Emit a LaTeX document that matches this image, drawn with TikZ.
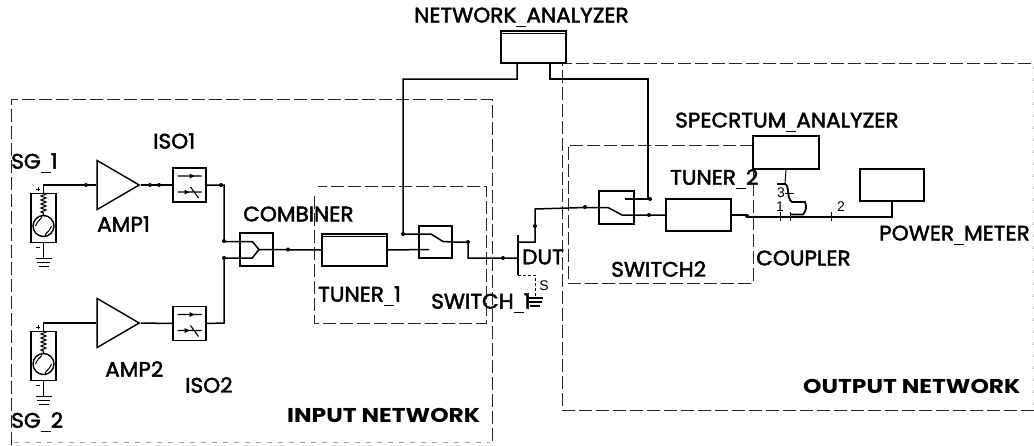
\documentclass[tikz,border=0pt]{standalone}
\usepackage{fontspec}
\setmainfont[FakeStretch=1.03,FakeBold=2.2]{Poppins}
\newfontfamily\netfont[FakeStretch=1.17]{Poppins}
\newfontfamily\portfont{Liberation Sans}
\usetikzlibrary{calc,shapes.geometric,decorations.pathmorphing}
\tikzset{
  wire/.style={line width=1.5pt, black},
  thin wire/.style={line width=1pt, black},
  region/.style={line width=0.8pt, black!85, dash pattern=on 13pt off 4pt},
  block/.style={draw, line width=1.4pt, inner sep=0pt, minimum width=#1},
  instr/.style={draw, line width=2.2pt, inner sep=0pt, minimum width=62pt, minimum height=30pt},
  amp/.style={draw, line width=1.4pt, isosceles triangle, isosceles triangle stretches, inner sep=0pt, minimum width=49pt, minimum height=42pt, anchor=apex},
  lbl/.style={inner sep=0pt, anchor=west, font=\fontsize{21}{21}\selectfont},
  netlbl/.style={inner sep=0pt, anchor=west, font=\fontsize{20}{20}\netfont\bfseries},
  portlbl/.style={inner sep=0pt, font=\fontsize{14}{14}\portfont},
  resistor/.style={decorate, decoration={zigzag, amplitude=2.5pt, segment length=4pt}}
}
\newcommand{\Us}{\rule[-4pt]{10pt}{0.5pt}}
\newcommand{\GroundSym}[1]{% #1=top coordinate
  \draw[line width=1.2pt] ($(#1)+(-8,0)$) -- ++(16,0) ($(#1)+(-6.5,4)$) -- ++(13,0) ($(#1)+(-5,8)$) -- ++(10,0);
}
\newcommand{\SourceSym}[2]{% #1=basename (e.g. SGa), #2=y of the box top
  \node[block=25pt, minimum height=49pt, anchor=north] (#1) at (43.5,#2) {};
  \node[draw, circle, line width=1.4pt, inner sep=0pt, minimum size=21pt, fill=white] (#1c) at (43.5,#2+33) {};
  \draw[line width=1pt] ($(#1c)+(-8,0)$) .. controls ($(#1c)+(-4,-9)$) and ($(#1c)+(-1,-6)$) .. (#1c)
    .. controls ($(#1c)+(1,6)$) and ($(#1c)+(4,9)$) .. ($(#1c)+(8,0)$);
  \draw[line width=1.1pt, resistor] (43.5,#2) -- (#1c.north);
  \draw[wire] (#1.south) -- ++(0,15) coordinate (#1g);
  \GroundSym{#1g}
  \draw[thin wire] (36,#2-4) -- ++(4,0) (38,#2-6) -- ++(0,4) (36,#2+54) -- ++(4,0);
}
\newcommand{\IsoSym}[1]{% #1=node name
  \draw[line width=1.1pt] ($(#1.center)+(-12,-9)$) -- ++(24,0) ($(#1.center)+(-12,7)$) -- ++(24,0) ($(#1.center)+(1,2)$) -- ++(8,11);
  \fill ($(#1.center)+(5,-9)$) -- ++(-5,-2.5) -- ++(0,5) -- cycle ($(#1.center)+(0,7)$) -- ++(-5,-2.5) -- ++(0,5) -- cycle;
}
\begin{document}
\begin{tikzpicture}[x=1pt,y=-1pt]
    \useasboundingbox (0,0) rectangle (1034,445);
    % regions
    \draw[region] (11,445) -- (11,99) -- (492,99) -- (492,445);
    \draw[region, black!35, dash pattern=on 5pt off 6pt] (14,442) -- (490,442);
    \draw[region] (1034,410) -- (562,410) -- (562,63) -- (1034,63);
    \draw[region, black!25, dash pattern=on 3pt off 9pt] (1033,66) -- (1033,408);
    \draw[region] (314,196) -- (314,323) -- (486,323) -- (486,186) -- (318,186);
    \draw[region] (753,145) -- (568,145) -- (568,283) -- (753,283) -- (753,172);

    \SourceSym{SGa}{193}
    \SourceSym{SGb}{331}

    \node[amp] (AMPa) at (141,185) {};
    \node[amp] (AMPb) at (141,323) {};
    \node[block=33pt, minimum height=34pt] (ISOa) at (189.5,185) {};
    \node[block=33pt, minimum height=34pt] (ISOb) at (189.5,323.5) {};
    \IsoSym{ISOa}
    \IsoSym{ISOb}
    \node[block=33pt, minimum height=33pt] (COMB) at (256.5,249.5) {};
    \node[instr, line width=2pt, minimum width=65pt, minimum height=32pt] (TUNa) at (354.5,250) {};
    \draw[line width=1pt] (323,236.5) -- (386,236.5);
    \node[block=33pt, minimum height=32pt] (SWa) at (435.5,242) {};
    \node[instr, minimum width=65pt, minimum height=32pt] (NA) at (533.5,47) {};
    \draw[line width=1pt] (502,33.5) -- (565,33.5);
    \node[block=35pt, minimum height=33pt] (SWb) at (616.5,207.5) {};
    \node[instr, minimum width=65pt, minimum height=32pt] (TUNb) at (698.5,215) {};
    \node[instr, minimum width=66pt, minimum height=33pt] (SA) at (786,152.5) {};
    \node[instr, minimum width=64pt, minimum height=32pt] (PM) at (892,185) {};

    \coordinate (SGat) at (43.5,185);
    \coordinate (SGbt) at (43.5,323);
    \coordinate (JOINa) at (224,185);
    \coordinate (JOINb) at (224,323);
    \coordinate (CMBa) at (224,241.5);
    \coordinate (CMBb) at (224,258);
    \coordinate (CMBt) at (259,249.5);
    \coordinate (SWaIn) at (429,249.5);
    \coordinate (SWaT) at (403,234);
    \coordinate (SWaOut) at (468,242);
    \coordinate (VIAa) at (403,79);
    \coordinate (VIAb) at (648,79);
    \coordinate (GATE) at (518,258);
    \coordinate (DRN) at (535,242);
    \coordinate (DRNt) at (535,209);
    \coordinate (SRC) at (535,275);
    \coordinate (SRCg) at (535,298);
    \coordinate (SWbTop) at (648,199);
    \coordinate (CPLa) at (785,184);
    \coordinate (CPLb) at (805,202);
    \coordinate (PMd) at (892,217);

    \draw[wire] (SGa.north) -- (SGat) -- (AMPa.west);
    \draw[wire] (SGb.north) -- (SGbt) -- (AMPb.west);
    \draw[wire] (AMPa.apex) -- (ISOa.west);
    \draw[wire] (AMPb.apex) -- (ISOb.west);
    \draw[wire] (ISOa.east) -- (JOINa) -- (CMBa) -- (COMB.west |- CMBa) -- ++(13,0) -- (CMBt);
    \draw[wire] (ISOb.east) -- (JOINb) -- (CMBb) -- (COMB.west |- CMBb) -- ++(13,0) -- (CMBt);
    \draw[wire] (CMBt) -- (TUNa.west);
    \draw[wire] (TUNa.east) -- (SWaIn);
    \draw[wire] (NA.south -| 517,63) -- (517,79) -- (VIAa) -- (SWaT) -- (431,234) -- (443,241.5) -- (SWa.east |- SWaOut) -- (SWaOut) -- (468,258) -- (GATE);
    \draw[wire] (518,235) -- (518,275);
    \draw[wire] (GATE |- DRN) -- (DRN) -- (DRNt) -- (585,207.5) -- (608,207.5) -- (622,215) -- (TUNb.west);
    \draw[wire] (550,63) -- (550,79) -- (VIAb) -- (SWbTop) -- (625,199);
    \draw[thin wire, densely dashed] (518,275) -- (SRC) -- (SRCg);
    \GroundSym{SRCg}
    \draw[wire] (TUNb.east) -- (747,215);
    \draw[wire, line width=1.2pt] (747,217) -- (PMd) -- (PM.south -| PMd);
    \draw[thin wire] (SA.south) -- (CPLa);
    \draw[wire, line width=1.8pt] (777,184) -- (CPLa) .. controls (790,186) and (786,198) .. (792,202) -- (CPLb) .. controls (807,207) and (806,211) .. (803,214.5) -- (790,214.5);
    \draw[thin wire] (785,193) -- (794,193);
    \foreach \tx in {780,790,831} { \draw[thin wire] (\tx,212) -- (\tx,221); }

    % pins
    \foreach \px/\py in {86/185,150/185,159/185,221/185,224/241,224/258,288/249.5,403/234,468/242,503/258,535/226,585/207,650/199,649/215,747/216}
      \fill (\px,\py) circle (2pt);

    \node[lbl] (lSGa) at (11,163) {SG\Us 1};
    \node[lbl] (lSGb) at (11,422) {SG\Us 2};
    \node[lbl] (lAMPa) at (97,224) {AMP1};
    \node[lbl] (lAMPb) at (105,369) {AMP2};
    \node[lbl] (lISOa) at (153,141) {ISO1};
    \node[lbl] (lISOb) at (185,385) {ISO2};
    \node[lbl] (lCOMB) at (243,214) {COMBINER};
    \node[lbl] (lTUNa) at (318,296) {TUNER\Us 1};
    \node[lbl] (lSWa) at (431,303) {SWITCH\Us 1};
    \node[lbl] (lDUT) at (522,257) {DUT};
    \node[lbl] (lNA) at (414,17) {NETWORK\Us ANALYZER};
    \node[lbl] (lSA) at (675,122) {SPECRTUM\Us ANALYZER};
    \node[lbl] (lTUNb) at (670,179) {TUNER\Us 2};
    \node[lbl] (lSWb) at (611,269) {SWITCH2};
    \node[lbl] (lCPL) at (756,258) {COUPLER};
    \node[lbl] (lPM) at (879,235) {POWER\Us METER};
    \node[netlbl] (lIN) at (287,415) {INPUT NETWORK};
    \node[netlbl] (lOUT) at (803,386) {OUTPUT NETWORK};
    \node[portlbl] (pS) at (544,286) {S};
    \node[portlbl] (pThree) at (781,193) {3};
    \node[portlbl] (pOne) at (780,207) {1};
    \node[portlbl] (pTwo) at (841,207) {2};
\end{tikzpicture}
\end{document}
